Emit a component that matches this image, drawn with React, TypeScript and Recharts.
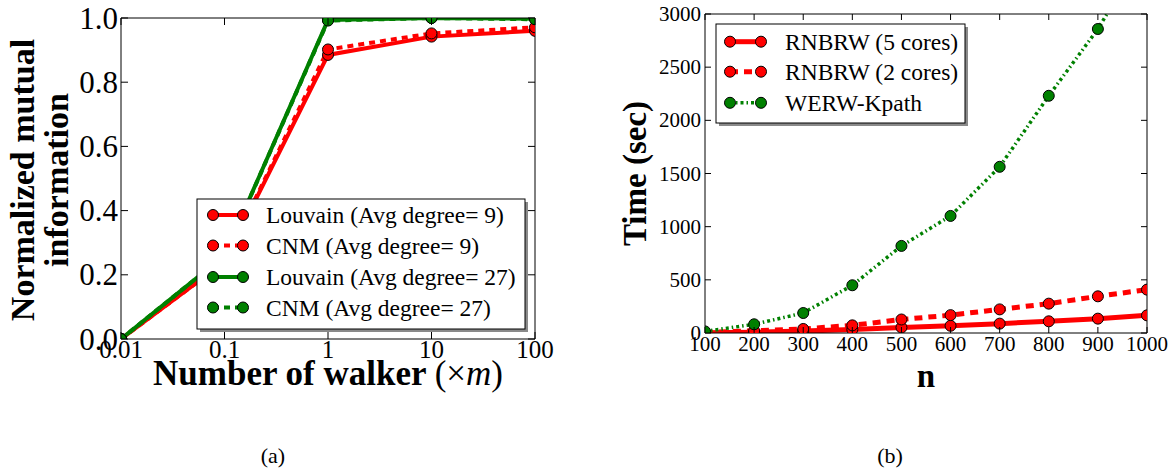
import { LineChart, Line, XAxis, YAxis } from 'recharts';

// (a) NMI vs number of walkers (log x)
const walkers = [0.01, 0.1, 1, 10, 100];
const louvain9 = [0, 0.24, 0.885, 0.942, 0.96];
const cnm9 = [0, 0.24, 0.902, 0.952, 0.971];
const louvain27 = [0, 0.26, 0.994, 1.0, 0.998];
const cnm27 = [0, 0.26, 0.992, 1.0, 0.996];
const walkerTicks = [0.01, 0.1, 1, 10, 100];
const nmiTicks = [0, 0.2, 0.4, 0.6, 0.8, 1.0];

// (b) running time vs n
const sizes = [100, 200, 300, 400, 500, 600, 700, 800, 900, 1000];
const rnbrw5 = [3, 8, 18, 32, 52, 68, 88, 110, 135, 166];
const rnbrw2 = [5, 20, 38, 72, 127, 168, 222, 276, 345, 408];
const werw = [15, 82, 188, 449, 819, 1101, 1563, 2231, 2859, 3620];
const sizeTicks = [100, 200, 300, 400, 500, 600, 700, 800, 900, 1000];
const timeTicks = [0, 500, 1000, 1500, 2000, 2500, 3000];

const RED = '#ff0000';
const GREEN = '#008000';
const serif = '"Liberation Serif", "Times New Roman", serif';

const nmiData = walkers.map((w, i) => ({
  w,
  louvain9: louvain9[i],
  cnm9: cnm9[i],
  louvain27: louvain27[i],
  cnm27: cnm27[i],
}));

const timeData = sizes.map((n, i) => ({
  n,
  rnbrw5: rnbrw5[i],
  rnbrw2: rnbrw2[i],
  werw: werw[i],
}));

// inward ticks, matplotlib style
function InTick({ x, y, payload, side, len, fontSize, off, fmt }: any) {
  let line;
  let label = null;
  const txt = fmt ? fmt(payload.value) : null;
  if (side === 'bottom') {
    line = <line x1={x} y1={y} x2={x} y2={y - len} stroke="#000" />;
    if (txt) label = <text x={x} y={y + off} textAnchor="middle" dominantBaseline="central" fontSize={fontSize} fontFamily={serif} fill="#000">{txt}</text>;
  } else if (side === 'top') {
    line = <line x1={x} y1={y} x2={x} y2={y + len} stroke="#000" />;
  } else if (side === 'left') {
    line = <line x1={x} y1={y} x2={x + len} y2={y} stroke="#000" />;
    if (txt) label = <text x={x - off} y={y} textAnchor="end" dominantBaseline="central" fontSize={fontSize} fontFamily={serif} fill="#000">{txt}</text>;
  } else {
    line = <line x1={x} y1={y} x2={x - len} y2={y} stroke="#000" />;
  }
  return <g>{line}{label}</g>;
}

const dotStyle = (c: string, r: number) => ({ r, fill: c, stroke: '#000', strokeWidth: 1, strokeDasharray: 'none' });

function NmiChart() {
  const ax = { stroke: '#000', strokeWidth: 1 };
  return (
    <LineChart width={560} height={400} data={nmiData} margin={{ top: 0, right: 0, bottom: 0, left: 0 }}>
      <XAxis dataKey="w" type="number" scale="log" domain={[0.01, 100]} ticks={walkerTicks} interval={0}
        height={61} tickSize={0} tickMargin={0} axisLine={ax} allowDataOverflow
        tick={(p: any) => <InTick {...p} side="bottom" len={7} fontSize={25} off={10} fmt={(v: number) => String(v)} />} />
      <XAxis xAxisId="top" orientation="top" dataKey="w" type="number" scale="log" domain={[0.01, 100]} ticks={walkerTicks} interval={0}
        height={18} tickSize={0} tickMargin={0} axisLine={ax} allowDataOverflow
        tick={(p: any) => <InTick {...p} side="top" len={7} />} />
      <YAxis type="number" domain={[0, 1]} ticks={nmiTicks} interval={0} width={121} tickSize={0} tickMargin={0} axisLine={ax} allowDataOverflow
        tick={(p: any) => <InTick {...p} side="left" len={7} fontSize={31} off={3} fmt={(v: number) => v.toFixed(1)} />} />
      <YAxis yAxisId="right" orientation="right" type="number" domain={[0, 1]} ticks={nmiTicks} interval={0} width={25} tickSize={0} tickMargin={0} axisLine={ax} allowDataOverflow
        tick={(p: any) => <InTick {...p} side="right" len={7} />} />
      <Line dataKey="louvain9" stroke={RED} strokeWidth={4} dot={dotStyle(RED, 5.5)} isAnimationActive={false} />
      <Line dataKey="cnm9" stroke={RED} strokeWidth={4} strokeDasharray="6 5" dot={dotStyle(RED, 5.5)} isAnimationActive={false} />
      <Line dataKey="louvain27" stroke={GREEN} strokeWidth={4} dot={dotStyle(GREEN, 5.5)} isAnimationActive={false} />
      <Line dataKey="cnm27" stroke={GREEN} strokeWidth={4} strokeDasharray="6 5" dot={dotStyle(GREEN, 5.5)} isAnimationActive={false} />
    </LineChart>
  );
}

function TimeChart() {
  const ax = { stroke: '#000', strokeWidth: 1 };
  return (
    <LineChart width={573} height={400} data={timeData} margin={{ top: 0, right: 0, bottom: 0, left: 0 }}>
      <XAxis dataKey="n" type="number" domain={[100, 1000]} ticks={sizeTicks} interval={0}
        height={67} tickSize={0} tickMargin={0} axisLine={ax} allowDataOverflow
        tick={(p: any) => <InTick {...p} side="bottom" len={6} fontSize={21} off={11} fmt={(v: number) => String(v)} />} />
      <XAxis xAxisId="top" orientation="top" dataKey="n" type="number" domain={[100, 1000]} ticks={sizeTicks} interval={0}
        height={14} tickSize={0} tickMargin={0} axisLine={ax} allowDataOverflow
        tick={(p: any) => <InTick {...p} side="top" len={6} />} />
      <YAxis type="number" domain={[0, 3000]} ticks={timeTicks} interval={0} width={105} tickSize={0} tickMargin={0} axisLine={ax} allowDataOverflow
        tick={(p: any) => <InTick {...p} side="left" len={6} fontSize={21} off={4} fmt={(v: number) => String(v)} />} />
      <YAxis yAxisId="right" orientation="right" type="number" domain={[0, 3000]} ticks={timeTicks} interval={0} width={26} tickSize={0} tickMargin={0} axisLine={ax} allowDataOverflow
        tick={(p: any) => <InTick {...p} side="right" len={6} />} />
      <Line dataKey="rnbrw5" stroke={RED} strokeWidth={5} dot={dotStyle(RED, 5.5)} isAnimationActive={false} />
      <Line dataKey="rnbrw2" stroke={RED} strokeWidth={5} strokeDasharray="8 6" dot={dotStyle(RED, 5.5)} isAnimationActive={false} />
      <Line dataKey="werw" stroke={GREEN} strokeWidth={3.5} strokeDasharray="3 3 1.5 3" dot={dotStyle(GREEN, 5.5)} isAnimationActive={false} />
    </LineChart>
  );
}

type Entry = { label: string; color: string; dash?: string; width: number };

function LegendBox({ x, y, w, h, rows, sx1, sx2, tx, fontSize, entries }: any) {
  return (
    <g>
      <rect x={x + 3} y={y + 3} width={w} height={h} fill="#8a8a8a" />
      <rect x={x} y={y} width={w} height={h} fill="#fff" stroke="#000" strokeWidth={1} />
      {(entries as Entry[]).map((e, i) => (
        <g key={e.label}>
          <line x1={sx1} y1={rows[i]} x2={sx2} y2={rows[i]} stroke={e.color} strokeWidth={e.width} strokeDasharray={e.dash} />
          <circle cx={sx1} cy={rows[i]} r={5.5} fill={e.color} stroke="#000" />
          <circle cx={sx2} cy={rows[i]} r={5.5} fill={e.color} stroke="#000" />
          <text x={tx} y={rows[i]} dominantBaseline="central" fontSize={fontSize} fontFamily={serif} fill="#000">{e.label}</text>
        </g>
      ))}
    </g>
  );
}

const nmiLegend: Entry[] = [
  { label: 'Louvain (Avg degree= 9)', color: RED, width: 4 },
  { label: 'CNM (Avg degree= 9)', color: RED, width: 4, dash: '6 5' },
  { label: 'Louvain (Avg degree= 27)', color: GREEN, width: 4 },
  { label: 'CNM (Avg degree= 27)', color: GREEN, width: 4, dash: '6 5' },
];

const timeLegend: Entry[] = [
  { label: 'RNBRW (5 cores)', color: RED, width: 5 },
  { label: 'RNBRW (2 cores)', color: RED, width: 5, dash: '8 6' },
  { label: 'WERW-Kpath', color: GREEN, width: 3.5, dash: '3 3 1.5 3' },
];

export default function App() {
  return (
    <div style={{ position: 'absolute', left: 0, top: 0, width: 1173, height: 472, background: '#fff', fontFamily: serif }}>
      <div style={{ position: 'absolute', left: 0, top: 0 }}>
        <NmiChart />
      </div>
      <div style={{ position: 'absolute', left: 600, top: 0 }}>
        <TimeChart />
      </div>
      <svg width={1173} height={472} style={{ position: 'absolute', left: 0, top: 0, pointerEvents: 'none' }}>
        <LegendBox x={197} y={199} w={328} h={130} rows={[215, 245.5, 277, 307.5]} sx1={213} sx2={243} tx={266} fontSize={23.5} entries={nmiLegend} />
        <LegendBox x={716} y={24} w={249} h={99} rows={[41.7, 71.7, 102.8]} sx1={730} sx2={761} tx={785} fontSize={23.5} entries={timeLegend} />

        <g fontFamily={serif} fontWeight="bold" fill="#000">
          <text transform="translate(34,180) rotate(-90)" textAnchor="middle" fontSize={34}>Normalized mutual</text>
          <text transform="translate(68,180) rotate(-90)" textAnchor="middle" fontSize={34}>information</text>
          <text x={328} y={385} textAnchor="middle" fontSize={35}>
            Number of walker <tspan fontWeight="normal">(×</tspan><tspan fontWeight="normal" fontStyle="italic">m</tspan><tspan fontWeight="normal">)</tspan>
          </text>
          <text transform="translate(646,173.5) rotate(-90)" textAnchor="middle" fontSize={33}>Time (sec)</text>
          <text x={926} y={387} textAnchor="middle" fontSize={33}>n</text>
        </g>
        <text x={273} y={463} textAnchor="middle" fontSize={22} fontFamily={serif}>(a)</text>
        <text x={890} y={463} textAnchor="middle" fontSize={22} fontFamily={serif}>(b)</text>
      </svg>
    </div>
  );
}
